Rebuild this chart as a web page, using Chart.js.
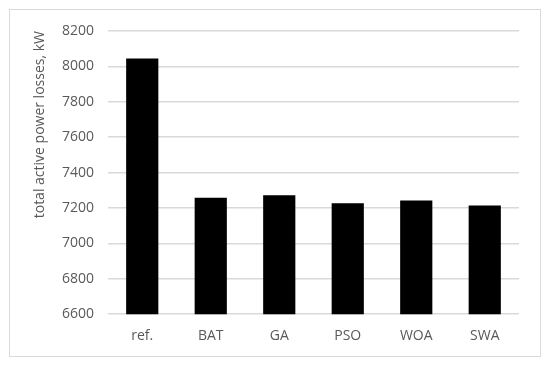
<!DOCTYPE html>
<html lang="en">
  <head>
    <meta charset="UTF-8" />
    <title>Total active power losses</title>
    <script src="https://cdn.jsdelivr.net/npm/chart.js"></script>
    <style>
      html, body {
        margin: 0;
        padding: 0;
        background: #fff;
      }
      #box {
        position: absolute;
        left: 9px;
        top: 9px;
        width: 530px;
        height: 346px;
        border: 1px solid #d9d9d9;
      }
    </style>
  </head>
  <body>
    <div id="box"><canvas id="myChart"></canvas></div>
    <script>
      const categories = ["ref.", "BAT", "GA", "PSO", "WOA", "SWA"];
      const losses = [8045, 7258, 7272, 7227, 7242, 7214];
      const yTicks = [6600, 6800, 7000, 7200, 7400, 7600, 7800, 8000, 8200];

      const ctx = document.getElementById("myChart");
      new Chart(ctx, {
        type: "bar",
        data: {
          labels: categories,
          datasets: [
            {
              label: "total active power losses, kW",
              data: losses,
              backgroundColor: "#000000",
              borderWidth: 0,
              barPercentage: 0.47,
              categoryPercentage: 1,
            },
          ],
        },
        options: {
          responsive: true,
          maintainAspectRatio: false,
          animation: false,
          layout: {
            padding: { top: 19, right: 21, bottom: 7, left: 0 },
          },
          plugins: {
            legend: { display: false },
            tooltip: { enabled: false },
          },
          scales: {
            x: {
              grid: { display: false },
              border: { display: false },
              ticks: {
                color: "#595959",
                padding: 5,
                font: { family: "Open Sans", size: 14 },
              },
            },
            y: {
              min: yTicks[0],
              max: yTicks[yTicks.length - 1],
              afterBuildTicks: (axis) => {
                axis.ticks = yTicks.map((v) => ({ value: v }));
              },
              afterFit: (axis) => {
                axis.width = 98;
              },
              grid: { color: "#d9d9d9", lineWidth: 1.5, drawTicks: false },
              border: { display: false },
              ticks: {
                color: "#595959",
                padding: 14,
                font: { family: "Open Sans", size: 14, lineHeight: 1 },
                callback: (v) => String(v),
              },
              title: {
                display: true,
                text: "total active power losses, kW",
                color: "#595959",
                align: "end",
                padding: { top: 22, bottom: 0 },
                font: { family: "Open Sans", size: 14 },
              },
            },
          },
        },
      });
    </script>
  </body>
</html>
